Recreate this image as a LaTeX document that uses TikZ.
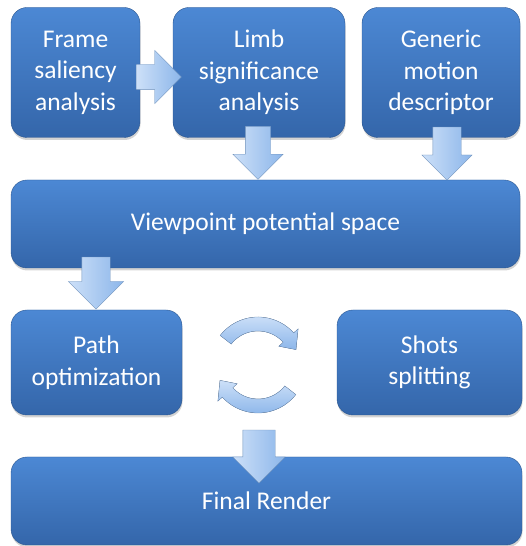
\documentclass[tikz,border=0pt]{standalone}
\usepackage{fontspec}
\setmainfont{Carlito}
\usepackage{tikz}
\usetikzlibrary{shapes.arrows, shadows}

\definecolor{boxtop}{RGB}{76,136,212}
\definecolor{boxbot}{RGB}{52,102,170}
\definecolor{arrowhi}{RGB}{205,224,248}
\definecolor{arrowlo}{RGB}{140,182,234}

\begin{document}
\begin{tikzpicture}[
    x=1pt, y=1pt,
    stage/.style={rectangle, rounded corners=16pt, draw=boxbot!85!black, line width=0.4pt,
        top color=boxtop, bottom color=boxbot, text=white, align=center,
        font=\fontsize{25.5}{31.5}\selectfont, inner sep=0pt,
        drop shadow={opacity=0.35, shadow xshift=0.5pt, shadow yshift=-2.5pt}},
    flow/.style={single arrow, single arrow head indent=0pt, inner xsep=0pt,
        draw=arrowlo!80!black, line width=0.3pt, left color=arrowhi, right color=arrowlo},
    turnarrow/.style={draw=arrowlo!80!black, line width=0.3pt, top color=arrowhi, bottom color=arrowlo}
]
    \useasboundingbox (0,0) rectangle (526,546);

    % Analysis stages
    \node[stage, minimum width=129pt, minimum height=130pt] (frame) at (75.5,473.5) {Frame\\saliency\\analysis};
    \node[stage, minimum width=172pt, minimum height=130pt] (limb) at (259,473.5) {Limb\\significance\\analysis};
    \node[stage, minimum width=158pt, minimum height=130pt] (generic) at (441,473.5) {Generic\\motion\\descriptor};

    % Potential space
    \node[stage, minimum width=509pt, minimum height=88pt] (space) at (265.5,322) {Viewpoint potential space};

    % Camera path and shots
    \node[stage, minimum width=171pt, minimum height=105pt] (path) at (96.5,183.5) {Path\\optimization};
    \node[stage, minimum width=185pt, minimum height=105pt] (shots) at (429.5,183.5) {Shots\\splitting};

    % Output
    \node[stage, minimum width=511pt, minimum height=88pt] (render) at (266.5,45) {Final Render};

    % Block arrows
    \node[flow, minimum height=45pt, inner ysep=12.5pt, single arrow head extend=14pt] (fl) at (152.5,469) {};
    \node[flow, rotate=-90, minimum height=53pt, inner ysep=12.5pt, single arrow head extend=12.5pt] (lv) at (258,399.5) {};
    \node[flow, rotate=-90, minimum height=53pt, inner ysep=14pt, single arrow head extend=11pt] (gv) at (447,399.5) {};
    \node[flow, rotate=-90, minimum height=52pt, inner ysep=14pt, single arrow head extend=13.5pt] (vp) at (96,270) {};
    \node[flow, rotate=-90, minimum height=53pt, inner ysep=16pt, single arrow head extend=10pt] (or) at (259,97.5) {};

    % Iteration between path and shots
    \begin{scope}[shift={(258,181)}]
        \filldraw[turnarrow] (142:48pt) arc[start angle=142, end angle=42, radius=48pt]
            -- (42:54pt) -- (22:41pt) -- (42:28pt) -- (42:34pt)
            arc[start angle=42, end angle=142, radius=34pt] -- cycle;
        \filldraw[turnarrow, rotate=180] (142:48pt) arc[start angle=142, end angle=42, radius=48pt]
            -- (42:54pt) -- (22:41pt) -- (42:28pt) -- (42:34pt)
            arc[start angle=42, end angle=142, radius=34pt] -- cycle;
    \end{scope}
\end{tikzpicture}
\end{document}
